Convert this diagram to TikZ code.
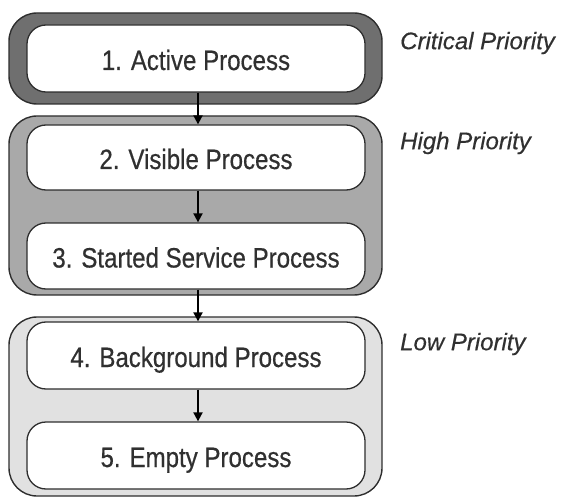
\documentclass[tikz,border=0pt]{standalone}
\usepackage{fontspec}
\setmainfont{Liberation Sans}
\newfontfamily\boxfont[FakeStretch=0.86,FakeBold=0.5]{Liberation Sans}
\newfontfamily\labfont[ItalicFeatures={FakeBold=0.4}]{Liberation Sans}
\usetikzlibrary{arrows.meta}
\definecolor{critfill}{HTML}{6F6F6F}
\definecolor{highfill}{HTML}{A9A9A9}
\definecolor{lowfill}{HTML}{E1E1E1}
\definecolor{edgecol}{HTML}{2E2E2E}
\definecolor{txtcol}{HTML}{303030}
\tikzset{
  container/.style={draw=edgecol, line width=1.4pt, rounded corners=28pt, minimum width=373pt, inner sep=0pt},
  procbox/.style={draw=edgecol, fill=white, line width=1.3pt, rounded corners=19pt, minimum width=338pt, inner sep=0pt, text=txtcol, text height=23pt, text depth=0pt, font=\boxfont\fontsize{28}{30}\selectfont},
  prio/.style={anchor=west, text=txtcol, inner sep=0pt, font=\labfont\itshape\fontsize{24}{26}\selectfont},
  flow/.style={draw=black, line width=1.9pt, -{Triangle[width=9pt,length=9pt]}}
}
\begin{document}
\begin{tikzpicture}[x=1pt,y=-1pt]
\useasboundingbox (0,0) rectangle (562,497);
% containers
\node[container, fill=critfill, minimum height=91pt] (c1) at (195.5,58.5) {};
\node[container, fill=highfill, minimum height=179pt] (c2) at (195.5,205.5) {};
\node[container, fill=lowfill, minimum height=179pt] (c3) at (195.5,406.5) {};
% process boxes
\node[procbox, minimum height=67pt] (p1) at (196,58.5) {1. Active Process};
\node[procbox, minimum height=65pt] (p2) at (196,157.5) {2. Visible Process};
\node[procbox, minimum height=66pt] (p3) at (196,256) {3. Started Service Process};
\node[procbox, minimum height=67pt] (p4) at (196,355.5) {4. Background Process};
\node[procbox, minimum height=67pt] (p5) at (196,455.5) {5. Empty Process};
% arrows
\draw[flow] (p1.south -| 198,0) -- (p2.north -| 198,0);
\draw[flow] (p2.south -| 198,0) -- (p3.north -| 198,0);
\draw[flow] (p3.south -| 198,0) -- (p4.north -| 198,0);
\draw[flow] (p4.south -| 198,0) -- (p5.north -| 198,0);
% labels
\node[prio] (l1) at (400,43) {Critical Priority};
\node[prio] (l2) at (400,143) {High Priority};
\node[prio] (l3) at (400,344) {Low Priority};
\end{tikzpicture}
\end{document}
